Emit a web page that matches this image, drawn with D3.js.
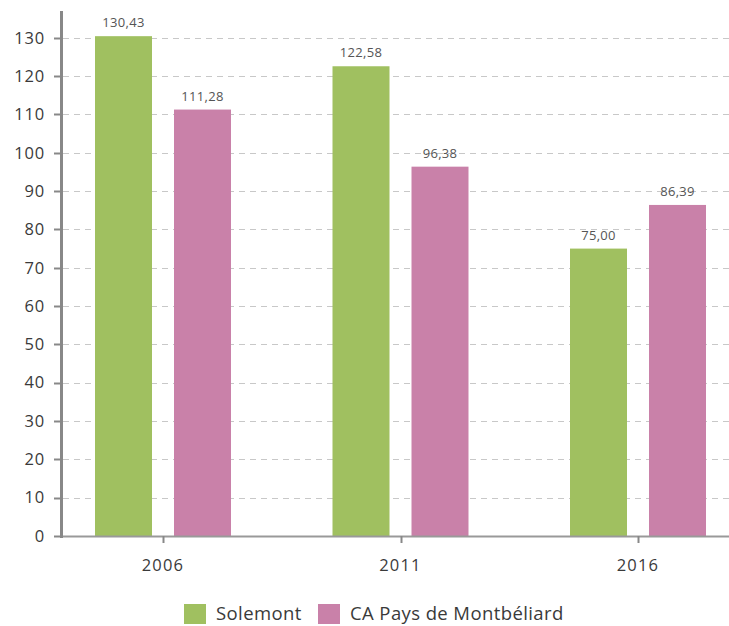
<!DOCTYPE html>
<html>
<head>
<meta charset="utf-8">
<script src="https://cdn.jsdelivr.net/npm/d3@7"></script>
<style>
  body { margin: 0; background: #fff; }
  svg text { font-family: "Open Sans", "Noto Sans", sans-serif; }
</style>
</head>
<body>
<div id="chart"></div>
<script>
// Data
var years = ['2006', '2011', '2016'];
var series = ['Solemont', 'CA Pays de Montbéliard'];
var solemont = [130.43, 122.58, 75.00];
var capm = [111.28, 96.38, 86.39];
var colors = ['#a0c060', '#c981a9'];
var yTicks = [0, 10, 20, 30, 40, 50, 60, 70, 80, 90, 100, 110, 120, 130];

var width = 729,
    height = 626;

var svg = d3.select('#chart')
    .append('svg')
    .attr('width', width)
    .attr('height', height);

var x0 = d3.scaleBand()
    .domain(years)
    .range([44.25, 756.75]);

var x1 = d3.scaleBand()
    .domain(series)
    .range([0, 136])
    .paddingInner(22 / 79);

var y = d3.scaleLinear()
    .domain([0, 137])
    .range([536, 11]);

// Grid lines
svg.append('g')
    .selectAll('line')
    .data(yTicks)
    .enter()
    .append('line')
    .attr('x1', 63)
    .attr('x2', width)
    .attr('y1', function(d) { return Math.round(y(d)) + 0.5; })
    .attr('y2', function(d) { return Math.round(y(d)) + 0.5; })
    .attr('stroke', '#c8c8c8')
    .attr('stroke-width', 1.2)
    .attr('stroke-dasharray', '6,5');

// Bars
var rows = years.map(function(yr, i) {
    return { year: yr, values: [solemont[i], capm[i]] };
});

var groups = svg.append('g')
    .selectAll('g')
    .data(rows)
    .enter()
    .append('g')
    .attr('transform', function(d) {
        return 'translate(' + (x0(d.year) + (x0.bandwidth() - 136) / 2) + ',0)';
    });

groups.selectAll('rect')
    .data(function(d) { return d.values.map(function(v, i) { return { s: series[i], v: v, i: i }; }); })
    .enter()
    .append('rect')
    .attr('x', function(d) { return x1(d.s); })
    .attr('width', x1.bandwidth())
    .attr('y', function(d) { return y(d.v); })
    .attr('height', function(d) { return y(0) - y(d.v); })
    .attr('fill', function(d) { return colors[d.i]; });

var fmt = function(v) { return d3.format('.2f')(v).replace('.', ','); };

groups.selectAll('text')
    .data(function(d) { return d.values.map(function(v, i) { return { s: series[i], v: v }; }); })
    .enter()
    .append('text')
    .attr('x', function(d) { return x1(d.s) + x1.bandwidth() / 2; })
    .attr('y', function(d) { return y(d.v) - 9; })
    .attr('text-anchor', 'middle')
    .attr('font-size', 13)
    .attr('letter-spacing', 0.3)
    .attr('fill', '#555')
    .text(function(d) { return fmt(d.v); });

// X axis line
svg.append('line')
    .attr('x1', 61)
    .attr('x2', width)
    .attr('y1', 536.5)
    .attr('y2', 536.5)
    .attr('stroke', '#999')
    .attr('stroke-width', 2);

// X ticks
svg.append('g')
    .selectAll('line')
    .data(years)
    .enter()
    .append('line')
    .attr('x1', function(d) { return Math.round(x0(d) + x0.bandwidth() / 2) + 0.5; })
    .attr('x2', function(d) { return Math.round(x0(d) + x0.bandwidth() / 2) + 0.5; })
    .attr('y1', 536)
    .attr('y2', 543)
    .attr('stroke', '#888')
    .attr('stroke-width', 2);

svg.append('g')
    .selectAll('text')
    .data(years)
    .enter()
    .append('text')
    .attr('x', function(d) { return x0(d) + x0.bandwidth() / 2; })
    .attr('y', 571)
    .attr('text-anchor', 'middle')
    .attr('font-size', 16.5)
    .attr('letter-spacing', 1.2)
    .attr('fill', '#3a3a3a')
    .text(function(d) { return d; });

// Y axis
svg.append('line')
    .attr('x1', 61.5)
    .attr('x2', 61.5)
    .attr('y1', 11)
    .attr('y2', 538)
    .attr('stroke', '#888')
    .attr('stroke-width', 3);

svg.append('g')
    .selectAll('line')
    .data(yTicks)
    .enter()
    .append('line')
    .attr('x1', 54)
    .attr('x2', 61)
    .attr('y1', function(d) { return Math.round(y(d)) + 0.5; })
    .attr('y2', function(d) { return Math.round(y(d)) + 0.5; })
    .attr('stroke', '#888')
    .attr('stroke-width', 2);

svg.append('g')
    .selectAll('text')
    .data(yTicks)
    .enter()
    .append('text')
    .attr('x', 45)
    .attr('y', function(d) { return y(d); })
    .attr('dy', '0.35em')
    .attr('text-anchor', 'end')
    .attr('font-size', 16.5)
    .attr('letter-spacing', 0.8)
    .attr('fill', '#3a3a3a')
    .text(function(d) { return d; });

// Legend
var legend = svg.append('g');
var legendX = [184, 318];
series.forEach(function(s, i) {
    legend.append('rect')
        .attr('x', legendX[i])
        .attr('y', 604)
        .attr('width', 22)
        .attr('height', 20)
        .attr('fill', colors[i]);
    legend.append('text')
        .attr('x', legendX[i] + 32)
        .attr('y', 620)
        .attr('font-size', 18.5)
        .attr('letter-spacing', 0.4)
        .attr('fill', '#3a3a3a')
        .text(s);
});
</script>
</body>
</html>
